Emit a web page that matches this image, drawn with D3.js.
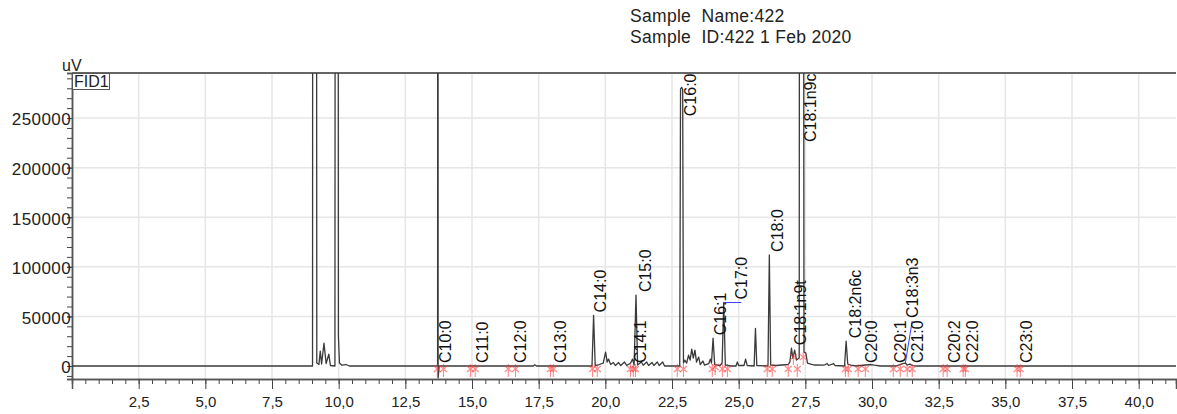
<!DOCTYPE html>
<html><head><meta charset="utf-8">
<script src="https://cdn.jsdelivr.net/npm/d3@7"></script>
<style>
html,body{margin:0;padding:0;background:#fff;}
svg{display:block;font-family:"Liberation Sans",Arial,sans-serif;}
</style></head>
<body>
<svg id="chart" width="1177" height="414"></svg>
<script>
// ---------- data ----------
const titleLines = ["Sample  Name:422", "Sample  ID:422 1 Feb 2020"];
const yUnit = "uV";
const detectorName = "FID1";

// chromatogram trace (retention time, min / signal, uV)
const traceTime = [0,8.98,9.02,9.04,9.15,9.18,9.26,9.31,9.36,9.45,9.53,9.63,9.69,9.86,9.89,9.96,9.99,10.03,10.12,10.28,10.4,
  13.71,13.72,13.73,13.77,17.3,17.35,17.42,19.5,19.56,19.62,19.78,19.92,20.01,20.07,20.12,20.2,20.3,20.38,20.5,20.58,20.72,20.8,
  20.95,21.02,21.08,21.15,21.21,21.35,21.42,21.55,21.62,21.75,21.82,21.95,22.02,22.15,22.22,22.79,22.82,22.86,22.9,22.93,22.98,
  23.05,23.12,23.18,23.24,23.3,23.36,23.42,23.5,23.56,23.66,23.72,23.88,23.94,23.98,24.04,24.1,24.3,24.38,24.44,24.5,24.7,24.9,
  24.95,25.0,25.2,25.26,25.32,25.58,25.63,25.68,26.1,26.15,26.2,26.4,26.85,26.92,26.98,27.03,27.1,27.17,27.27,27.3,27.4,27.45,
  27.52,27.58,27.7,27.85,28.2,28.32,28.37,28.56,28.61,28.97,29.03,29.09,29.2,29.4,29.95,30.1,30.3,30.9,31.05,31.15,31.25,31.32,
  31.42,31.52,31.7,41.4];
const traceSignal = [0,0,0,1500000,1500000,3000,1500,15000,2000,23000,2500,12000,500,0,1500000,1500000,30000,3000,800,1500,0,
  0,1500000,-12000,0,0,1200,0,0,51000,500,1500,3000,14000,4000,7000,1500,3500,500,3500,500,4000,500,
  3000,7000,1000,71500,1000,4000,800,4000,500,3500,500,4000,500,4000,0,0,279000,281000,279000,3000,6000,
  3000,11000,6000,17000,8000,16000,4000,9000,1500,5000,800,2500,7000,3000,28000,1500,500,3000,64000,1000,0,0,
  4000,500,500,7000,500,0,38000,500,0,112000,1000,500,1500,4000,18000,8000,16000,6000,8000,1500000,1500000,14000,
  13000,3000,2000,1000,800,2500,500,2500,500,0,25000,2000,800,0,1500,800,0,0,1500,2500,3000,1000,
  2000,400,0,0];

// peak annotations
const peakNames   = ["C10:0","C11:0","C12:0","C13:0","C14:0","C14:1","C15:0","C16:0","C16:1","C17:0","C18:0",
  "C18:1n9t","C18:1n9c","C18:2n6c","C20:0","C20:1","C18:3n3","C21:0","C20:2","C22:0","C23:0"];
const peakTimes   = [13.69,15.07,16.50,18.0,19.56,21.0,21.15,22.86,24.04,24.44,26.15,27.0,27.35,29.03,29.65,30.74,31.25,31.37,32.77,33.46,35.48];
const peakHeights = [0,0,0,0,51000,0,71500,281000,28000,64000,112000,18000,1500000,25000,0,0,3000,0,0,0,0];
const labelTimes  = [13.69,15.07,16.50,18.0,19.50,21.0,21.19,22.87,24.0,24.78,26.13,27.0,27.38,29.04,29.65,30.74,31.19,31.37,32.77,33.46,35.48];
const labelHeights= [0,0,0,0,51000,0,71500,281000,28000,64000,112000,18000,1500000,25000,0,0,45400,0,0,0,0];
const labelMoved  = [0,0,0,0,0,0,0,0,0,1,0,0,0,0,0,0,1,0,0,0,0];

// integration start/end markers
const markerTimes  = [13.70,13.93,14.94,15.12,16.36,16.63,17.94,18.05,19.52,19.70,20.94,21.05,21.13,22.70,22.93,24.01,24.12,
  24.39,24.58,26.07,26.26,26.86,27.05,27.20,27.42,29.0,29.11,29.48,29.75,30.80,31.06,31.32,31.51,32.67,32.82,33.42,33.5,35.44,35.56];
const markerValues = [0,0,0,0,0,0,0,0,0,0,0,0,0,0,0,0,2000,
  0,0,0,0,0,12000,0,12000,0,0,0,0,0,0,0,0,0,0,0,0,0,0];

// axis ticks
const xTickValues = [2.5,5,7.5,10,12.5,15,17.5,20,22.5,25,27.5,30,32.5,35,37.5,40];
const xTickLabels = ["2,5","5,0","7,5","10,0","12,5","15,0","17,5","20,0","22,5","25,0","27,5","30,0","32,5","35,0","37,5","40,0"];
const yTickValues = [0,50000,100000,150000,200000,250000];
const yTickLabels = ["0","50000","100000","150000","200000","250000"];

// ---------- drawing ----------
const svg = d3.select("#chart");
const L = 72, R = 1176, T = 73, B = 379;
const x = d3.scaleLinear().domain([0, 41.4]).range([L, R]);
const y = d3.scaleLinear().domain([-13100, 295400]).range([B, T]);

svg.append("defs").append("clipPath").attr("id","plotclip")
  .append("rect").attr("x",L).attr("y",T).attr("width",R-L).attr("height",B-T);

// grid
const grid = svg.append("g");
grid.selectAll("line.vg").data(xTickValues).join("line")
  .attr("x1",d=>x(d)).attr("x2",d=>x(d)).attr("y1",T).attr("y2",B)
  .attr("stroke","#e6e6e6").attr("stroke-width",1.5);
grid.selectAll("line.hg").data(yTickValues.filter(d=>d>0)).join("line")
  .attr("x1",L).attr("x2",R).attr("y1",d=>y(d)).attr("y2",d=>y(d))
  .attr("stroke","#e6e6e6").attr("stroke-width",1.5);

// axes
const xMinor = d3.axisBottom(x).tickValues(d3.range(0.5, 41.3, 0.5)).tickSize(5).tickFormat("");
const xMajor = d3.axisBottom(x).tickValues(xTickValues).tickSize(10)
  .tickFormat((d,i)=>xTickLabels[i]).tickPadding(4);
const gxm = svg.append("g").attr("transform",`translate(0,${B})`).call(xMinor);
const gx = svg.append("g").attr("transform",`translate(0,${B})`).call(xMajor);
[gxm,gx].forEach(g=>{
  g.select(".domain").attr("stroke","#555").attr("stroke-width",1.5);
  g.selectAll(".tick line").attr("stroke","#444");
});
gx.selectAll(".tick text").attr("font-size","15px").attr("fill","#222")
  .attr("font-family","'Liberation Sans',Arial,sans-serif").attr("dy","0.95em");

const yMinor = d3.axisLeft(y).tickValues(d3.range(-10000, 295000, 10000)).tickSize(5).tickFormat("");
const yMajor = d3.axisLeft(y).tickValues(yTickValues).tickSize(5)
  .tickFormat((d,i)=>yTickLabels[i]).tickPadding(1);
const gym = svg.append("g").attr("transform",`translate(${L},0)`).call(yMinor);
const gy = svg.append("g").attr("transform",`translate(${L},0)`).call(yMajor);
[gym,gy].forEach(g=>{
  g.select(".domain").attr("stroke","#555").attr("stroke-width",1.5);
  g.selectAll(".tick line").attr("stroke","#444");
});
gy.selectAll(".tick text").attr("font-size","17px").attr("fill","#222")
  .attr("font-family","'Liberation Sans',Arial,sans-serif").attr("x",-1).attr("dy","0.4em")
  .attr("letter-spacing","0.4px");

// top border
svg.append("line").attr("x1",L).attr("x2",R).attr("y1",T).attr("y2",T)
  .attr("stroke","#666").attr("stroke-width",2);

// trace
const traceData = traceTime.map((t,i)=>[t, traceSignal[i]]);
svg.append("path").datum(traceData)
  .attr("clip-path","url(#plotclip)")
  .attr("fill","none").attr("stroke","#3a3a3a").attr("stroke-width",1.3)
  .attr("stroke-linejoin","round")
  .attr("d", d3.line().x(d=>x(d[0])).y(d=>y(d[1])));

// markers
const markerPath = "M0,-2V11M-3.5,0L3.5,6M3.5,0L-3.5,6";
svg.append("g").selectAll("path").data(markerTimes).join("path")
  .attr("transform",(d,i)=>`translate(${x(d)},${y(markerValues[i])})`)
  .attr("d", markerPath).attr("fill","none")
  .attr("stroke","#ff3b3b").attr("stroke-opacity",0.6).attr("stroke-width",1.1);

// labels
const lab = svg.append("g");
peakNames.forEach((name,i)=>{
  const lx = x(labelTimes[i]);
  const t = lab.append("text").text(name)
    .attr("font-size","16px").attr("fill","#111");
  const len = t.node().getComputedTextLength();
  let bottom = y(Math.min(labelHeights[i], 295400)) - 3;
  if (bottom - len < T) bottom = T + len + 0.5;
  t.attr("transform",`translate(${lx+14.2},${bottom}) rotate(-90)`);
  if (labelMoved[i]) {
    lab.append("line")
      .attr("x1", x(peakTimes[i])).attr("y1", y(peakHeights[i]))
      .attr("x2", lx+8.5).attr("y2", y(labelHeights[i]))
      .attr("stroke","#3b3bff").attr("stroke-width",1);
  }
});

// y unit and detector box
svg.append("text").text(yUnit).attr("x",62).attr("y",71)
  .attr("font-size","16px").attr("fill","#222");
const fid = svg.append("g");
fid.append("rect").attr("x",72.5).attr("y",73.5).attr("width",37).attr("height",16)
  .attr("fill","#fff").attr("stroke","#555").attr("stroke-width",1);
fid.append("text").text(detectorName).attr("x",74).attr("y",87)
  .attr("font-size","16px").attr("fill","#222");

// title
svg.append("g").selectAll("text").data(titleLines).join("text")
  .attr("x",630).attr("y",(d,i)=>22+i*21)
  .attr("font-size","17.5px").attr("fill","#222").attr("letter-spacing","0.3px")
  .attr("xml:space","preserve").style("white-space","pre")
  .text(d=>d);
</script>
</body></html>
